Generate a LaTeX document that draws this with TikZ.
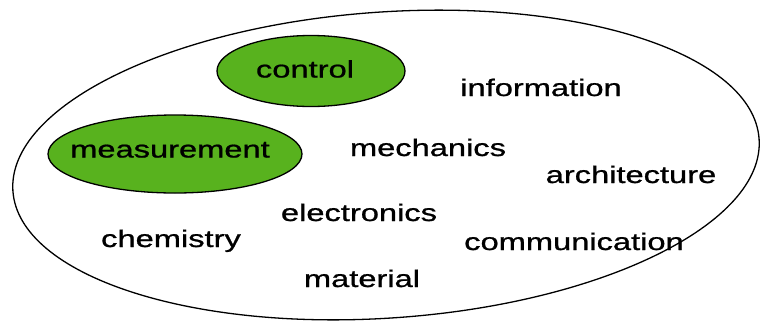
\documentclass[tikz,border=0pt]{standalone}
\usepackage{fontspec}
\usepackage{graphicx}
\setmainfont{Liberation Sans}
\newfontfamily\heavyfont{Liberation Sans}[FakeBold=0.8]
\usetikzlibrary{shapes.geometric}
\definecolor{leafgreen}{RGB}{88,178,30}
\newcommand{\wideword}[1]{\scalebox{1.36}[1]{#1}}
\begin{document}
\begin{tikzpicture}[x=1pt, y=1pt,
        field/.style={draw, ellipse, line width=1.3pt, inner sep=0pt},
        blob/.style={draw, ellipse, fill=leafgreen, line width=1.3pt, inner sep=0pt},
        word/.style={anchor=base, inner sep=0pt, font=\heavyfont\fontsize{24}{26}\selectfont}]
        \useasboundingbox (0,0) rectangle (761,-322);

        \node[field, minimum width=748, minimum height=306, rotate=4] (area) at (386,-165) {};

        \node[blob, minimum width=188, minimum height=71] (controlblob) at (311,-71) {};
        \node[blob, minimum width=254, minimum height=78] (measblob) at (175,-154) {};

        \node[word] (control) at (305,-77.5) {\wideword{control}};
        \node[word] (measurement) at (170,-157.5) {\wideword{measurement}};
        \node[word] (information) at (541,-96) {\wideword{information}};
        \node[word] (mechanics) at (428,-156) {\wideword{mechanics}};
        \node[word] (architecture) at (631,-183) {\wideword{architecture}};
        \node[word] (electronics) at (359,-221) {\wideword{electronics}};
        \node[word] (chemistry) at (171,-247) {\wideword{chemistry}};
        \node[word] (communication) at (574,-250) {\wideword{communication}};
        \node[word] (material) at (362,-287) {\wideword{material}};
    \end{tikzpicture}
\end{document}
